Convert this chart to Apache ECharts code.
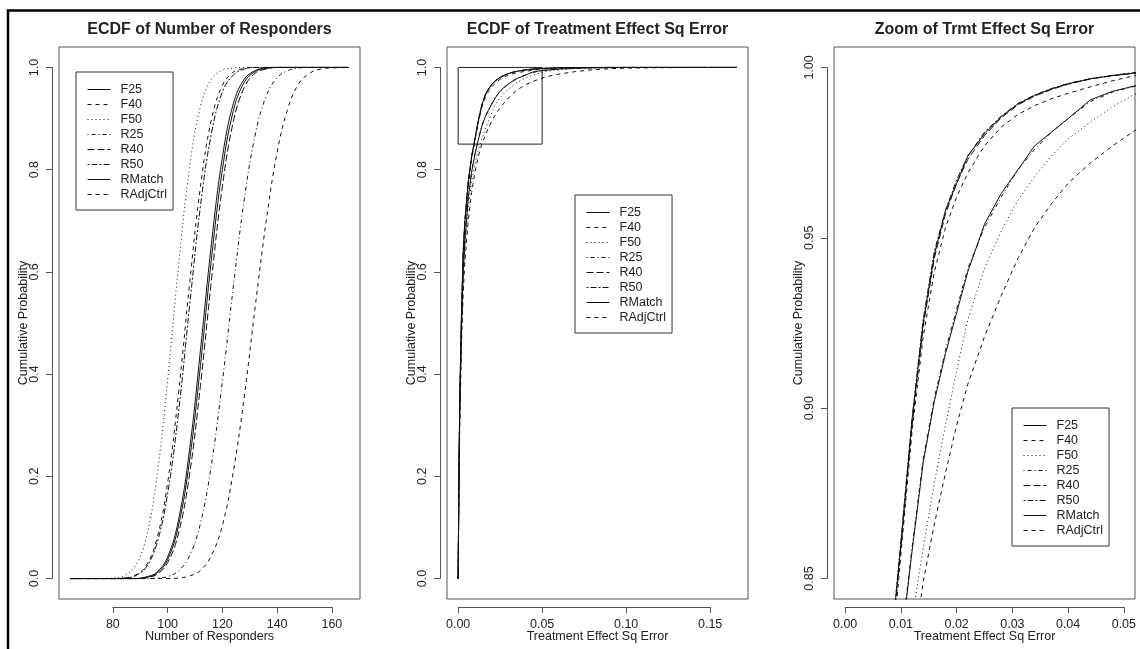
<!DOCTYPE html>
<html lang="en">
<head>
<meta charset="UTF-8">
<title>ECDF plots</title>
<script src="https://cdn.jsdelivr.net/npm/echarts@6.0.0/dist/echarts.min.js"></script>
<style>
    body { margin: 0; padding: 0; background: #fff; }
    #main { width: 1140px; height: 649px; }
</style>
</head>
<body>
<div id="main"></div>
<script type="text/javascript">
// legend order / series names
var seriesNames = ['F25', 'F40', 'F50', 'R25', 'R40', 'R50', 'RMatch', 'RAdjCtrl'];

// panel 1 - ECDF of number of responders
var respX = [64.4, 80, 84, 88, 92, 96, 100, 104, 108, 112, 116, 120, 124, 128, 132, 136, 140, 144, 148, 152, 156, 160, 166.2];
var respF25 = [0, 0, 0, 0, 0.003, 0.012, 0.042, 0.115, 0.251, 0.447, 0.655, 0.824, 0.929, 0.977, 0.994, 0.999, 1, 1, 1, 1, 1, 1, 1];
var respF40 = [0, 0, 0.001, 0.006, 0.024, 0.076, 0.187, 0.363, 0.575, 0.767, 0.898, 0.965, 0.991, 0.998, 1, 1, 1, 1, 1, 1, 1, 1, 1];
var respF50 = [0, 0.001, 0.005, 0.023, 0.076, 0.196, 0.388, 0.612, 0.804, 0.924, 0.977, 0.995, 0.999, 1, 1, 1, 1, 1, 1, 1, 1, 1, 1];
var respR25 = [0, 0, 0, 0, 0, 0.001, 0.004, 0.015, 0.044, 0.108, 0.223, 0.385, 0.571, 0.742, 0.868, 0.944, 0.980, 0.994, 0.999, 1, 1, 1, 1];
var respR40 = [0, 0, 0, 0, 0.002, 0.008, 0.031, 0.089, 0.203, 0.378, 0.583, 0.767, 0.894, 0.961, 0.989, 0.997, 1, 1, 1, 1, 1, 1, 1];
var respR50 = [0, 0, 0.001, 0.005, 0.021, 0.067, 0.166, 0.326, 0.532, 0.729, 0.871, 0.952, 0.985, 0.997, 1, 1, 1, 1, 1, 1, 1, 1, 1];
var respRMatch = [0, 0, 0, 0, 0.002, 0.010, 0.037, 0.104, 0.230, 0.417, 0.625, 0.800, 0.915, 0.971, 0.992, 0.998, 1, 1, 1, 1, 1, 1, 1];
var respRAdjCtrl = [0, 0, 0, 0, 0, 0, 0, 0.001, 0.005, 0.016, 0.045, 0.104, 0.209, 0.356, 0.532, 0.699, 0.834, 0.921, 0.969, 0.989, 0.997, 0.999, 1];

// panels 2 and 3 - ECDF of treatment effect squared error
var errX = [0, 0.0005, 0.001, 0.002, 0.003, 0.004, 0.006, 0.008, 0.010, 0.012, 0.014, 0.016, 0.018, 0.020, 0.022, 0.025, 0.028, 0.031, 0.034, 0.037, 0.040, 0.044, 0.048, 0.052, 0.06, 0.07, 0.08, 0.09, 0.10, 0.12, 0.14, 0.166];
var errF25 = [0, 0.22, 0.36, 0.52, 0.64, 0.70, 0.775, 0.826, 0.860, 0.8965, 0.925, 0.945, 0.958, 0.966, 0.974, 0.9805, 0.9855, 0.9893, 0.9918, 0.9937, 0.9952, 0.9967, 0.9976, 0.9984, 0.9993, 0.9997, 0.9999, 1, 1, 1, 1, 1];
var errF40 = [0, 0.21, 0.35, 0.51, 0.63, 0.69, 0.77, 0.82, 0.857, 0.893, 0.921, 0.94, 0.953, 0.962, 0.969, 0.977, 0.9825, 0.9862, 0.9888, 0.9908, 0.9924, 0.9943, 0.9961, 0.9976, 0.9988, 0.9995, 0.9998, 1, 1, 1, 1, 1];
var errF50 = [0, 0.2, 0.33, 0.48, 0.585, 0.645, 0.725, 0.775, 0.812, 0.838, 0.859, 0.878, 0.895, 0.911, 0.926, 0.941, 0.952, 0.961, 0.968, 0.974, 0.979, 0.984, 0.9885, 0.9922, 0.9955, 0.998, 0.999, 0.9995, 0.9998, 1, 1, 1];
var errR25 = [0, 0.21, 0.34, 0.49, 0.60, 0.66, 0.744, 0.796, 0.831, 0.859, 0.885, 0.903, 0.917, 0.929, 0.941, 0.953, 0.962, 0.970, 0.976, 0.981, 0.985, 0.990, 0.9928, 0.9945, 0.9969, 0.9985, 0.9993, 0.9997, 1, 1, 1, 1];
var errR40 = [0, 0.22, 0.36, 0.52, 0.64, 0.70, 0.774, 0.824, 0.859, 0.895, 0.924, 0.944, 0.957, 0.966, 0.973, 0.980, 0.9852, 0.989, 0.9916, 0.9935, 0.9951, 0.9966, 0.9976, 0.9983, 0.9992, 0.9997, 0.9999, 1, 1, 1, 1, 1];
var errR50 = [0, 0.21, 0.35, 0.51, 0.635, 0.70, 0.776, 0.826, 0.861, 0.897, 0.926, 0.946, 0.958, 0.967, 0.974, 0.981, 0.9857, 0.9894, 0.9919, 0.9938, 0.9953, 0.9967, 0.9977, 0.9985, 0.9993, 0.9997, 0.9999, 1, 1, 1, 1, 1];
var errRMatch = [0, 0.21, 0.34, 0.49, 0.60, 0.66, 0.745, 0.795, 0.83, 0.858, 0.884, 0.902, 0.916, 0.928, 0.940, 0.954, 0.963, 0.970, 0.977, 0.981, 0.985, 0.9905, 0.9930, 0.9946, 0.997, 0.9985, 0.9993, 0.9997, 1, 1, 1, 1];
var errRAdjCtrl = [0, 0.19, 0.31, 0.46, 0.56, 0.62, 0.70, 0.755, 0.795, 0.826, 0.849, 0.866, 0.881, 0.895, 0.907, 0.921, 0.933, 0.944, 0.953, 0.960, 0.966, 0.972, 0.977, 0.9815, 0.987, 0.992, 0.9955, 0.9975, 0.9987, 0.9996, 0.9999, 1];

// zoom window marked on panel 2
var zoomBoxX = [0, 0.05, 0.05, 0, 0];
var zoomBoxY = [0.85, 0.85, 1, 1, 0.85];

var respData = { F25: respF25, F40: respF40, F50: respF50, R25: respR25, R40: respR40, R50: respR50, RMatch: respRMatch, RAdjCtrl: respRAdjCtrl };
var errData = { F25: errF25, F40: errF40, F50: errF50, R25: errR25, R40: errR40, R50: errR50, RMatch: errRMatch, RAdjCtrl: errRAdjCtrl };

// R lty 1..6, recycled
var lineTypes = { F25: 'solid', F40: [4, 4], F50: [1, 3], R25: [1, 3, 4, 3], R40: [7, 3], R50: [2, 2, 6, 2], RMatch: 'solid', RAdjCtrl: [4, 4] };

var FONT = "'Liberation Sans', Arial, Helvetica, sans-serif";
var TXT = '#222';
var AXC = '#555';
var BOX_TOP = 47, BOX_H = 552, BOX_W = 301;

var panels = [{
    title: 'ECDF of Number of Responders', left: 59, xName: 'Number of Responders',
    xRange: [60.33, 170.27], yRange: [-0.04, 1.04], xTicks: [80, 160, 20], yTicks: [0, 1, 0.2],
    xDigits: 0, yDigits: 1, xs: respX, ys: respData, legend: [76, 72], smooth: 0.4
}, {
    title: 'ECDF of Treatment Effect Sq Error', left: 447, xName: 'Treatment Effect Sq Error',
    xRange: [-0.00664, 0.17254], yRange: [-0.04, 1.04], xTicks: [0, 0.15, 0.05], yTicks: [0, 1, 0.2],
    xDigits: 2, yDigits: 1, xs: errX, ys: errData, legend: [575, 195], smooth: false
}, {
    title: 'Zoom of Trmt Effect Sq Error', left: 834, xName: 'Treatment Effect Sq Error',
    xRange: [-0.002, 0.052], yRange: [0.844, 1.006], xTicks: [0, 0.05, 0.01], yTicks: [0.85, 1, 0.05],
    xDigits: 2, yDigits: 2, xs: errX, ys: errData, legend: [1012, 408], smooth: false
}];

function frac(v, r) { return (v - r[0]) / (r[1] - r[0]); }
function zip(xs, ys) { return xs.map(function (x, i) { return [x, ys[i]]; }); }

var grids = [], xAxes = [], yAxes = [], series = [], titles = [], legends = [];

panels.forEach(function (p, i) {
    // plot box (data grid)
    grids.push({
        left: p.left, top: BOX_TOP, width: BOX_W, height: BOX_H, show: true,
        borderColor: AXC, borderWidth: 1, backgroundColor: 'transparent', outerBoundsMode: 'none'
    });
    xAxes.push({
        gridIndex: 2 * i, type: 'value', min: p.xRange[0], max: p.xRange[1],
        axisLine: { show: false, onZero: false }, axisTick: { show: false }, axisLabel: { show: false }, splitLine: { show: false },
        name: p.xName, nameLocation: 'middle', nameGap: 31,
        nameTextStyle: { fontFamily: FONT, fontSize: 12.5, color: TXT }
    });
    yAxes.push({
        gridIndex: 2 * i, type: 'value', min: p.yRange[0], max: p.yRange[1],
        axisLine: { show: false, onZero: false }, axisTick: { show: false }, axisLabel: { show: false }, splitLine: { show: false },
        name: 'Cumulative Probability', nameLocation: 'middle', nameGap: 29, nameRotate: 90,
        nameTextStyle: { fontFamily: FONT, fontSize: 12.5, color: TXT }
    });

    // detached R-style axes spanning the tick range only
    var x0 = p.left + frac(p.xTicks[0], p.xRange) * BOX_W;
    var x1 = p.left + frac(p.xTicks[1], p.xRange) * BOX_W;
    var y1 = BOX_TOP + (1 - frac(p.yTicks[1], p.yRange)) * BOX_H;
    var y0 = BOX_TOP + (1 - frac(p.yTicks[0], p.yRange)) * BOX_H;
    grids.push({ left: x0, top: y1, width: x1 - x0, height: y0 - y1, show: false, outerBoundsMode: 'none' });
    xAxes.push({
        gridIndex: 2 * i + 1, type: 'value', min: p.xTicks[0], max: p.xTicks[1], interval: p.xTicks[2],
        offset: BOX_TOP + BOX_H + 8 - y0,
        axisLine: { show: true, onZero: false, lineStyle: { color: AXC, width: 1 } },
        axisTick: { show: true, length: 6, lineStyle: { color: AXC } },
        axisLabel: {
            show: true, interval: 0, margin: 11, showMinLabel: true, showMaxLabel: true,
            fontFamily: FONT, fontSize: 12.5, color: TXT,
            formatter: function (v) { return v.toFixed(p.xDigits); }
        },
        splitLine: { show: false }
    });
    yAxes.push({
        gridIndex: 2 * i + 1, type: 'value', min: p.yTicks[0], max: p.yTicks[1], interval: p.yTicks[2],
        offset: x0 - (p.left - 7),
        axisLine: { show: true, onZero: false, lineStyle: { color: AXC, width: 1 } },
        axisTick: { show: true, length: 6, lineStyle: { color: AXC } },
        axisLabel: {
            show: true, interval: 0, margin: 11, rotate: 90, showMinLabel: true, showMaxLabel: true,
            fontFamily: FONT, fontSize: 12.5, color: TXT,
            formatter: function (v) { return v.toFixed(p.yDigits); }
        },
        splitLine: { show: false }
    });

    seriesNames.forEach(function (n) {
        series.push({
            type: 'line', name: n, xAxisIndex: 2 * i, yAxisIndex: 2 * i,
            data: zip(p.xs, p.ys[n]), symbol: 'none', showSymbol: false,
            smooth: p.smooth, clip: true, silent: true,
            lineStyle: { color: '#111', width: 1, type: lineTypes[n] },
            emphasis: { disabled: true }
        });
    });
    if (i === 1) {
        series.push({
            type: 'line', name: 'zoom', xAxisIndex: 2, yAxisIndex: 2,
            data: zip(zoomBoxX, zoomBoxY), symbol: 'none', silent: true,
            lineStyle: { color: '#222', width: 1 }
        });
    }

    titles.push({
        text: p.title, left: p.left + BOX_W / 2, top: 22, textAlign: 'center', padding: 0,
        textStyle: { fontFamily: FONT, fontSize: 16, fontWeight: 'bold', color: TXT }
    });
    legends.push({
        data: seriesNames, orient: 'vertical', left: p.legend[0], top: p.legend[1],
        padding: [11, 6, 9, 11], itemGap: 2, itemWidth: 23, itemHeight: 12,
        borderColor: '#333', borderWidth: 1, borderRadius: 0, backgroundColor: '#fff',
        selectedMode: false, itemStyle: { opacity: 0 }, lineStyle: { width: 1 },
        textStyle: { fontFamily: FONT, fontSize: 12.5, lineHeight: 12, color: TXT, padding: [0, 0, 0, 5] }
    });
});

var myChart = echarts.init(document.getElementById('main'), null, { renderer: 'canvas' });
myChart.setOption({
    backgroundColor: '#fff',
    animation: false,
    title: titles,
    legend: legends,
    grid: grids,
    xAxis: xAxes,
    yAxis: yAxes,
    series: series,
    graphic: [{
        type: 'polyline', silent: true,
        shape: { points: [[8, 660], [8, 10.5], [1150, 10.5]] },
        style: { stroke: '#000', lineWidth: 2.5, fill: null }
    }]
});
</script>
</body>
</html>
